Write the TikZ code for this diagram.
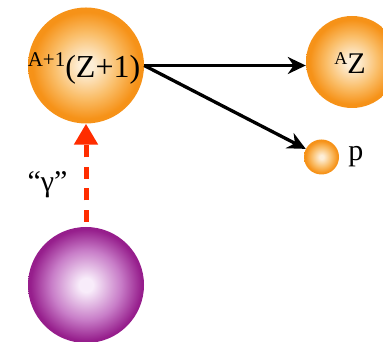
\documentclass[tikz,border=0pt]{standalone}
\usepackage{fontspec}
\setmainfont{Liberation Serif}
\usetikzlibrary{positioning, arrows.meta}

\definecolor{orIn}{RGB}{253,238,215}
\definecolor{orMid}{RGB}{250,190,105}
\definecolor{orOut}{RGB}{246,146,24}
\definecolor{puIn}{RGB}{248,236,250}
\definecolor{puMid}{RGB}{200,125,200}
\definecolor{puOut}{RGB}{150,30,140}
\definecolor{photonred}{RGB}{255,45,0}

% the circle edge sits at 25bp of the shading
\pgfdeclareradialshading{orangeball}{\pgfpoint{0bp}{0bp}}{color(0bp)=(orIn); color(3bp)=(orIn); color(14bp)=(orMid); color(23bp)=(orOut); color(50bp)=(orOut)}
\pgfdeclareradialshading{purpleball}{\pgfpoint{0bp}{0bp}}{color(0bp)=(puIn); color(3bp)=(puIn); color(15bp)=(puMid); color(24bp)=(puOut); color(50bp)=(puOut)}

\begin{document}
\begin{tikzpicture}[x=1pt, y=1pt,
        ball/.style={circle, inner sep=0pt, shading=orangeball},
        label/.style={inner sep=0pt},
        decay/.style={-{Stealth[length=18pt, width=17pt]}, line width=3.3pt},
        photon/.style={-{Triangle[length=21pt, width=23pt]}, line width=5pt, color=photonred, dash pattern=on 12pt off 9.5pt, dash phase=16.5pt}
    ]
        \useasboundingbox (0,0) rectangle (383,342);

        % Nuclei
        \node[ball, minimum size=116pt] (compound) at (86,276.5) {};
        \node[ball, minimum size=92pt] (daughter) at (352,280) {};
        \node[ball, minimum size=35pt] (proton) at (321.5,185) {};
        \node[ball, shading=purpleball, minimum size=116pt] (target) at (86,57) {};

        % Texts
        \node[label, font=\fontsize{32}{32}\selectfont] (compoundText) at ([xshift=-2pt, yshift=-3pt]compound) {\raisebox{11pt}{\fontsize{21}{21}\selectfont A+1}(Z+1)};
        \node[label, font=\fontsize{30}{30}\selectfont] (daughterText) at ([xshift=-2pt, yshift=-1pt]daughter) {\raisebox{9pt}{\fontsize{18}{18}\selectfont A}Z};
        \node[label, font=\fontsize{30}{30}\selectfont, right=9pt of proton] (protonText) {p};
        \node[label, font=\fontsize{30}{30}\selectfont] (gammaText) at (47.5,157.5) {“γ”};

        % Decay arrows
        \draw[decay] (compound.east) -- (compound.east -| daughter.west);
        \draw[decay] (compound.east) -- (proton);

        % Incoming photon
        \draw[photon] (target) -- (compound);

    \end{tikzpicture}
\end{document}
